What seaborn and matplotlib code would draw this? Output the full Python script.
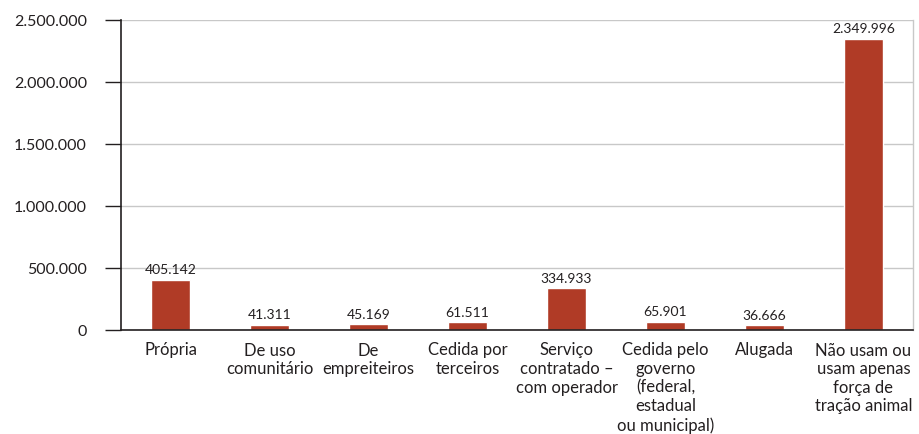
import matplotlib
matplotlib.use("Agg")
import matplotlib.pyplot as plt
import matplotlib.ticker as mticker
import seaborn as sns
import pandas as pd
import numpy as np

categories = [
    "Própria",
    "De uso\ncomunitário",
    "De\nempreiteiros",
    "Cedida por\nterceiros",
    "Serviço\ncontratado –\ncom operador",
    "Cedida pelo\ngoverno\n(federal,\nestadual\nou municipal)",
    "Alugada",
    "Não usam ou\nusam apenas\nforça de\ntração animal",
]
values = [405142, 41311, 45169, 61511, 334933, 65901, 36666, 2349996]
y_ticks = [0, 500000, 1000000, 1500000, 2000000, 2500000]

sns.set_theme(style="white")
plt.rcParams['font.family'] = ['Lato', 'DejaVu Sans']

TEXT = "#231F20"
BAR = "#B03B26"

def fmt(v):
    return f"{int(round(v)):,}".replace(",", ".")

df = pd.DataFrame({"cat": categories, "val": values})

fig = plt.figure(figsize=(9.19, 4.34), dpi=100)
ax = fig.add_axes([121/919, 104/434, (913-121)/919, (330-20)/434])

sns.barplot(data=df, x="cat", y="val", color=BAR, saturation=1, width=0.4, ax=ax, zorder=3)

ax.set_xlim(-0.5, len(categories) - 0.5)
ax.set_ylim(0, 2500000)
ax.set_yticks(y_ticks)
ax.yaxis.set_major_formatter(mticker.FuncFormatter(lambda v, p: fmt(v)))
ax.grid(axis="y", color="#C8C8C8", linewidth=1.0, zorder=0)
ax.set_axisbelow(True)

ax.spines["top"].set_visible(False)
ax.spines["right"].set_color("#C8C8C8")
ax.spines["right"].set_linewidth(1.0)
for s in ["left", "bottom"]:
    ax.spines[s].set_color(TEXT)
    ax.spines[s].set_linewidth(1.2)
    ax.spines[s].set_zorder(4)

ax.set_xlabel("")
ax.set_ylabel("")
ax.tick_params(axis="x", which="major", length=0, pad=9, labelsize=12, labelcolor=TEXT)
ax.set_xticks(np.arange(-0.5, len(categories)), minor=True)
ax.tick_params(axis="x", which="minor", length=10, width=1.0, color=TEXT, direction="out")
ax.tick_params(axis="y", which="major", length=11.5, width=1.0, color=TEXT, pad=13,
               labelsize=11.5, labelcolor=TEXT, left=True)
for lbl in ax.get_xticklabels():
    lbl.set_linespacing(1.2)
    lbl.set_verticalalignment("top")

for i, v in enumerate(values):
    ax.annotate(fmt(v), (i, v), xytext=(0, 2.5), textcoords="offset points",
                ha="center", va="bottom", fontsize=10, color=TEXT, zorder=5)

fig.savefig("out.png", dpi=100)
